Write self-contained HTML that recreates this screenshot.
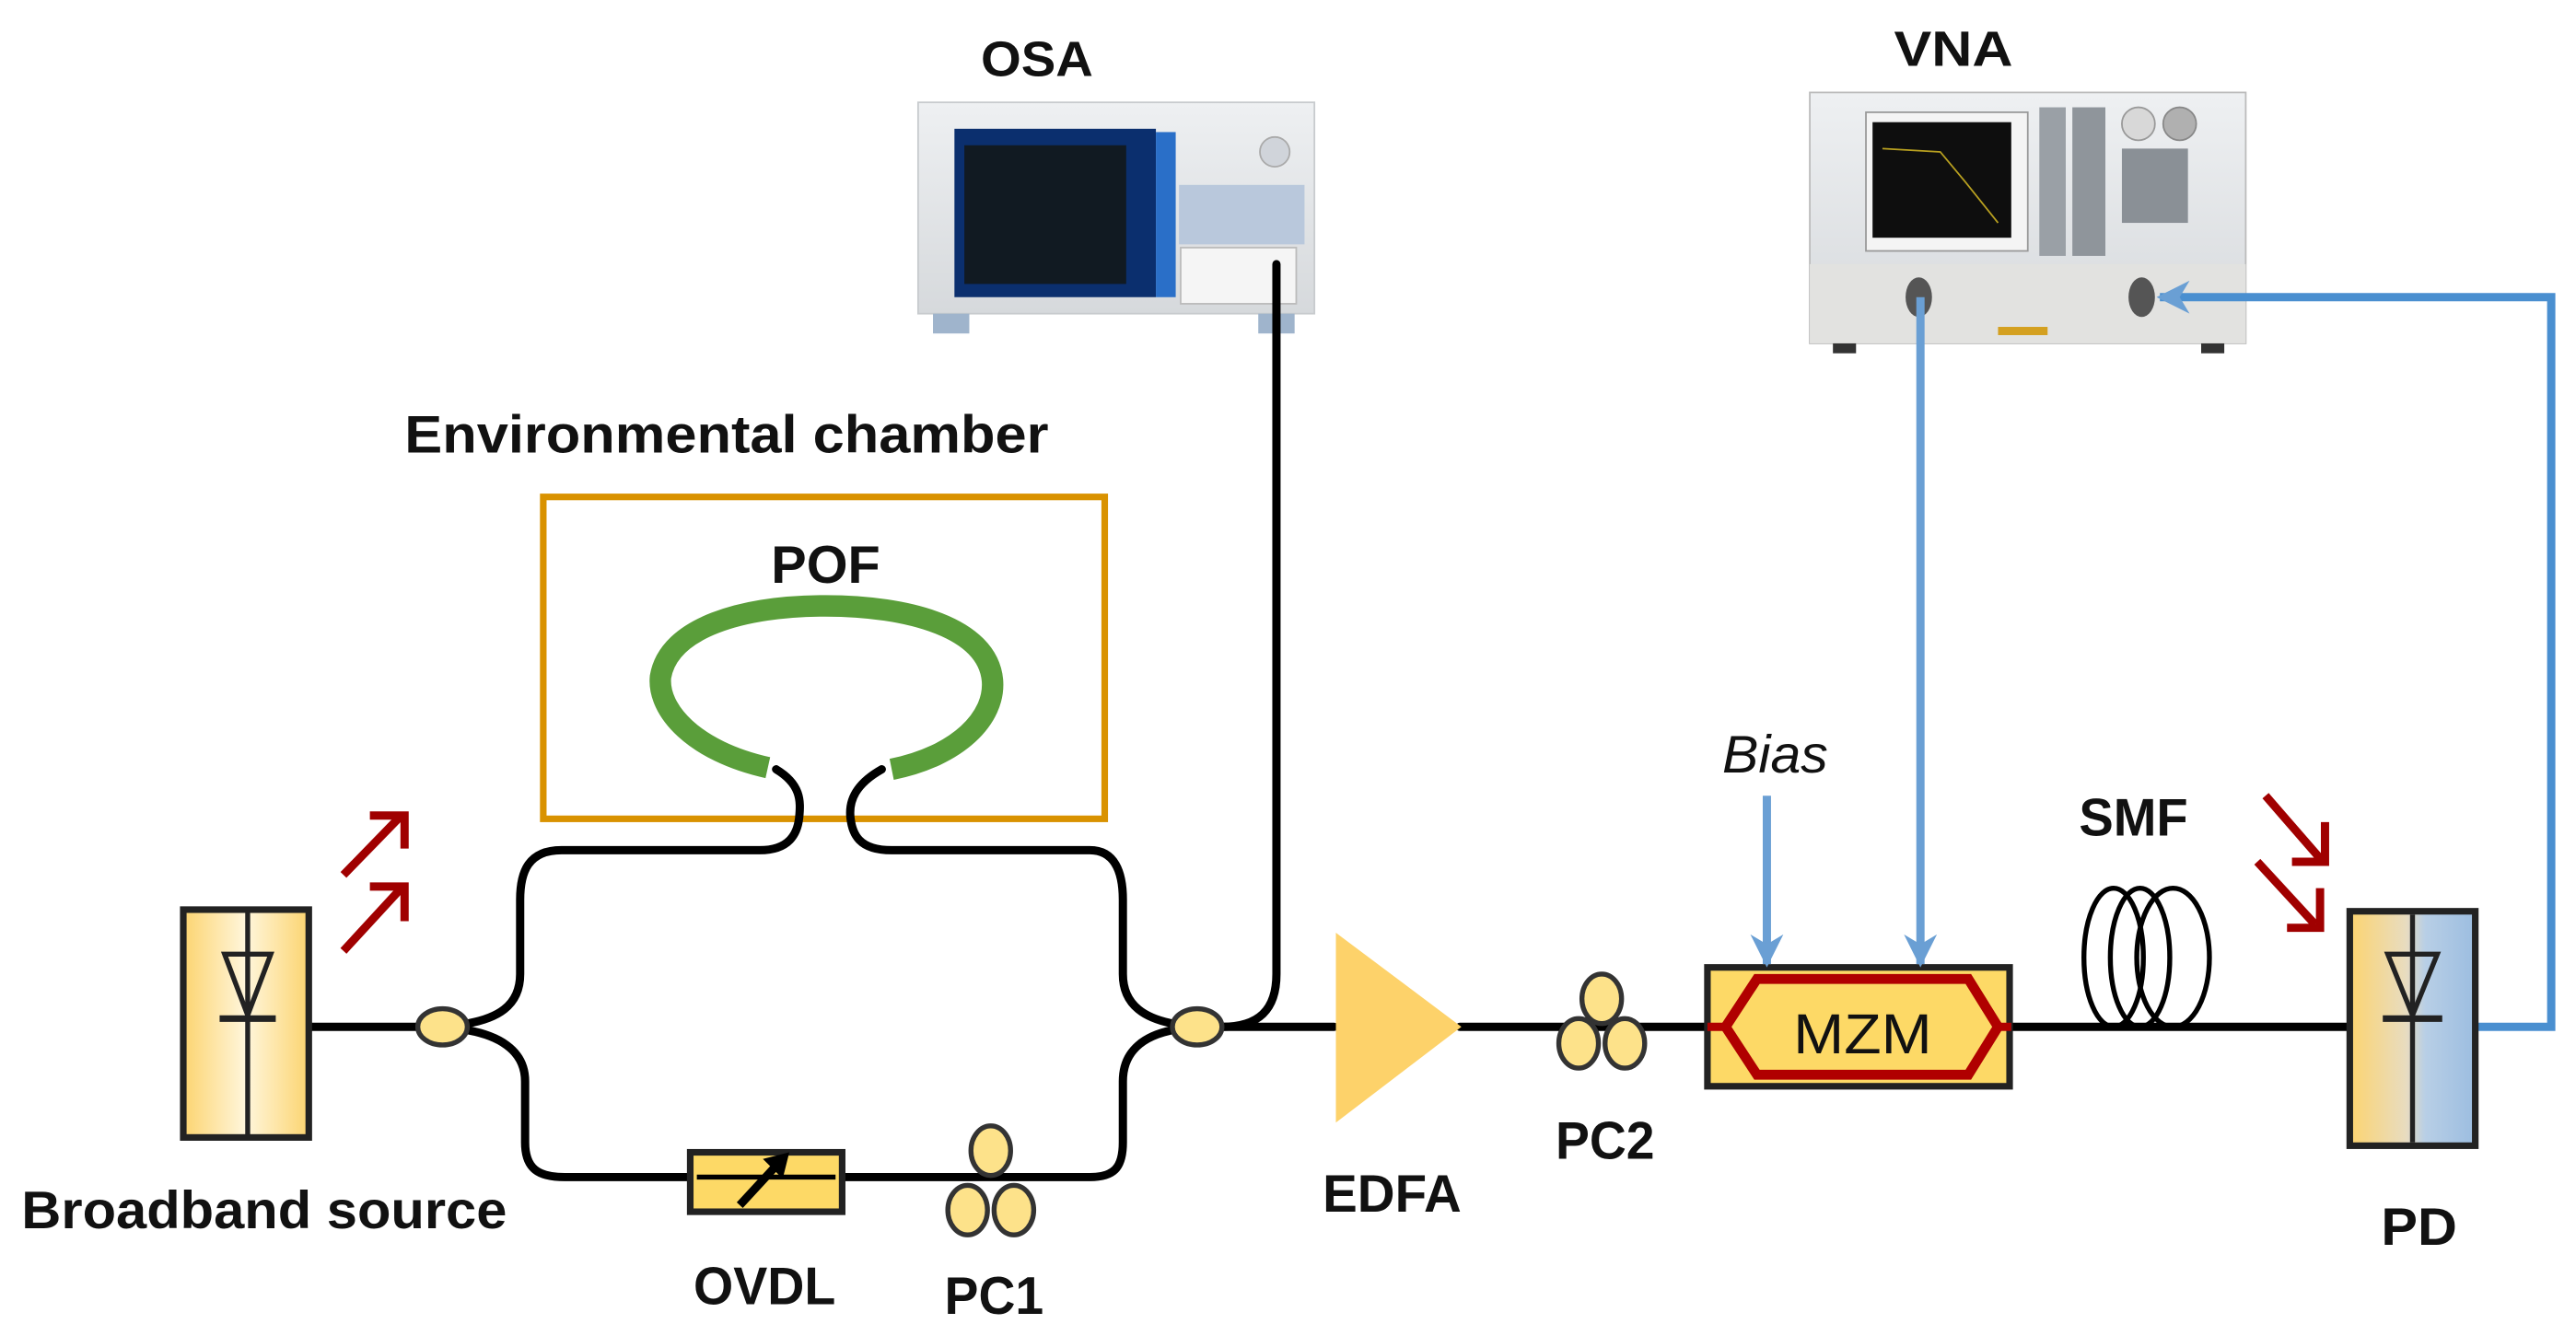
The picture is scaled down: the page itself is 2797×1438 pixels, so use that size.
<!DOCTYPE html>
<html><head><meta charset="utf-8"><style>
html,body{margin:0;padding:0;background:#fff;}
svg{display:block;}
text{font-family:"Liberation Sans",sans-serif;fill:#111;}
</style></head><body>
<svg width="2797" height="1438" viewBox="0 0 1560 802" preserveAspectRatio="none" xmlns="http://www.w3.org/2000/svg">
<defs>
<linearGradient id="srcg" x1="0" x2="1"><stop offset="0" stop-color="#fcd470"/><stop offset="0.5" stop-color="#fff6dc"/><stop offset="1" stop-color="#fcd470"/></linearGradient>
<linearGradient id="pdg" x1="0" x2="1"><stop offset="0" stop-color="#fcd470"/><stop offset="0.45" stop-color="#e8dcc0"/><stop offset="0.6" stop-color="#b8cfe6"/><stop offset="1" stop-color="#9cbde0"/></linearGradient>
<linearGradient id="dev" x1="0" y1="0" x2="0" y2="1"><stop offset="0" stop-color="#eef0f2"/><stop offset="1" stop-color="#d6d9dc"/></linearGradient>
<marker id="ab" viewBox="0 0 10 10" refX="9" refY="5" markerWidth="4" markerHeight="4" orient="auto"><path d="M0,0 L10,5 L0,10 L3,5 z" fill="#6a9fd4"/></marker>
</defs>

<!-- OSA -->
<text x="628" y="46" font-size="30" font-weight="bold" text-anchor="middle" textLength="68" lengthAdjust="spacingAndGlyphs">OSA</text>
<rect x="556" y="62" width="240" height="128" fill="url(#dev)" stroke="#c8cbce"/>
<rect x="578" y="78" width="122" height="102" fill="#0b2f6e"/>
<rect x="584" y="88" width="98" height="84" fill="#111a22"/>
<rect x="700" y="80" width="12" height="100" fill="#2a6fc8"/>
<rect x="714" y="112" width="76" height="36" fill="#b9c8dc"/>
<rect x="715" y="150" width="70" height="34" fill="#f5f5f5" stroke="#bbb"/>
<circle cx="772" cy="92" r="9" fill="#d0d4da" stroke="#aaa"/>
<rect x="565" y="190" width="22" height="12" fill="#9fb4cc"/>
<rect x="762" y="190" width="22" height="12" fill="#9fb4cc"/>

<!-- VNA -->
<text x="1183" y="40" font-size="30" font-weight="bold" text-anchor="middle" textLength="72" lengthAdjust="spacingAndGlyphs">VNA</text>
<rect x="1096" y="56" width="264" height="152" fill="url(#dev)" stroke="#bbb"/>
<rect x="1096" y="160" width="264" height="48" fill="#e2e2e0"/>
<rect x="1130" y="68" width="98" height="84" fill="#f4f4f4" stroke="#999"/>
<rect x="1134" y="74" width="84" height="70" fill="#0e0e0e"/>
<polyline points="1140,90 1175,92 1190,110 1210,135" fill="none" stroke="#b8a020" stroke-width="1"/>
<rect x="1235" y="65" width="16" height="90" fill="#9aa0a6"/>
<rect x="1255" y="65" width="20" height="90" fill="#8f959b"/>
<rect x="1285" y="90" width="40" height="45" fill="#8a9096"/>
<circle cx="1295" cy="75" r="10" fill="#d8d8d8" stroke="#999"/>
<circle cx="1320" cy="75" r="10" fill="#b0b0b0" stroke="#888"/>
<ellipse cx="1162" cy="180" rx="8" ry="12" fill="#555"/>
<ellipse cx="1297" cy="180" rx="8" ry="12" fill="#555"/>
<rect x="1210" y="198" width="30" height="5" fill="#d4a020"/>
<rect x="1110" y="208" width="14" height="6" fill="#333"/>
<rect x="1333" y="208" width="14" height="6" fill="#333"/>

<!-- Environmental chamber -->
<text x="440" y="274" font-size="32" font-weight="bold" text-anchor="middle" textLength="390" lengthAdjust="spacingAndGlyphs">Environmental chamber</text>
<rect x="329" y="301" width="340" height="195" fill="none" stroke="#d99200" stroke-width="4"/>
<text x="500" y="353" font-size="32" font-weight="bold" text-anchor="middle" textLength="66" lengthAdjust="spacingAndGlyphs">POF</text>
<path d="M465,465 C420,455 398,430 400,410 C405,380 450,367 500,367 C550,367 598,380 601,412 C603,435 580,458 540,466" fill="none" stroke="#5a9e3a" stroke-width="13" stroke-linecap="butt"/>

<!-- fibers -->
<g fill="none" stroke="#000" stroke-width="5" stroke-linecap="round">
<path d="M470,466 C485,475 485,485 484,495 C483,505 478,515 460,515 L340,515 C320,515 315,528 315,545 L315,590 C315,610 300,617 283,620"/>
<path d="M534,466 C518,475 514,485 515,495 C516,505 520,515 540,515 L660,515 C675,515 680,528 680,545 L680,590 C680,610 695,617 710,620"/>
<path d="M283,624 C300,627 318,635 318,655 L318,692 C318,708 326,713 342,713 L418,713"/>
<path d="M510,713 L660,713 C674,713 680,708 680,692 L680,655 C680,635 695,627 710,624"/>
<path d="M740,622 C762,622 773,612 773,590 L773,160"/>
<line x1="188" y1="622" x2="252" y2="622"/>
<line x1="740" y1="622" x2="808" y2="622"/>
<line x1="884" y1="622" x2="1035" y2="622"/>
<line x1="1218" y1="622" x2="1422" y2="622"/>
</g>

<!-- couplers -->
<ellipse cx="268" cy="622" rx="15" ry="11" fill="#fde28a" stroke="#333" stroke-width="3"/>
<ellipse cx="725" cy="622" rx="15" ry="11" fill="#fde28a" stroke="#333" stroke-width="3"/>

<!-- Broadband source -->
<rect x="111" y="551" width="76" height="138" fill="url(#srcg)" stroke="#222" stroke-width="4"/>
<line x1="150" y1="553" x2="150" y2="688" stroke="#222" stroke-width="3"/>
<polygon points="136,578 164,578 150,615" fill="none" stroke="#222" stroke-width="3"/>
<line x1="133" y1="617" x2="167" y2="617" stroke="#222" stroke-width="4"/>
<g stroke="#a00000" stroke-width="5" fill="none">
<path d="M208,530 L243,494"/><path d="M224,494 L245,494 L245,514"/>
<path d="M208,576 L243,538"/><path d="M224,537 L245,537 L245,558"/>
</g>
<text x="160" y="744" font-size="32" font-weight="bold" text-anchor="middle" textLength="294" lengthAdjust="spacingAndGlyphs">Broadband source</text>

<!-- OVDL -->
<rect x="418" y="698" width="92" height="36" fill="#fdd966" stroke="#222" stroke-width="4"/>
<line x1="422" y1="713" x2="506" y2="713" stroke="#000" stroke-width="3"/>
<path d="M448,730 L472,704" stroke="#000" stroke-width="5"/>
<polygon points="462,702 478,698 474,714" fill="#000"/>
<text x="463" y="790" font-size="32" font-weight="bold" text-anchor="middle" textLength="86" lengthAdjust="spacingAndGlyphs">OVDL</text>

<!-- PC1 -->
<g fill="#fde28a" stroke="#333" stroke-width="3">
<ellipse cx="600" cy="697" rx="12" ry="15"/><ellipse cx="586" cy="733" rx="12" ry="15"/><ellipse cx="614" cy="733" rx="12" ry="15"/>
</g>
<text x="602" y="796" font-size="32" font-weight="bold" text-anchor="middle" textLength="60" lengthAdjust="spacingAndGlyphs">PC1</text>

<!-- EDFA -->
<polygon points="809,565 885,622 809,680" fill="#fdd26a"/>
<text x="843" y="734" font-size="32" font-weight="bold" text-anchor="middle" textLength="84" lengthAdjust="spacingAndGlyphs">EDFA</text>

<!-- PC2 -->
<g fill="#fde28a" stroke="#333" stroke-width="3">
<ellipse cx="970" cy="605" rx="12" ry="15"/><ellipse cx="956" cy="632" rx="12" ry="15"/><ellipse cx="984" cy="632" rx="12" ry="15"/>
</g>
<text x="972" y="702" font-size="32" font-weight="bold" text-anchor="middle" textLength="60" lengthAdjust="spacingAndGlyphs">PC2</text>

<!-- MZM -->
<rect x="1034" y="586" width="183" height="72" fill="#fdd966" stroke="#222" stroke-width="4"/>
<polygon points="1045,622 1064,593 1192,593 1210,622 1192,651 1064,651" fill="none" stroke="#b00000" stroke-width="6"/>
<line x1="1034" y1="622" x2="1045" y2="622" stroke="#b00000" stroke-width="5"/>
<line x1="1210" y1="622" x2="1218" y2="622" stroke="#b00000" stroke-width="5"/>
<text x="1128" y="638" font-size="34" text-anchor="middle" textLength="84" lengthAdjust="spacingAndGlyphs">MZM</text>

<!-- Bias / VNA lines -->
<text x="1075" y="468" font-size="32" font-style="italic" text-anchor="middle" textLength="64" lengthAdjust="spacingAndGlyphs">Bias</text>
<line x1="1070" y1="482" x2="1070" y2="584" stroke="#6a9fd4" stroke-width="5" marker-end="url(#ab)"/>
<line x1="1163" y1="180" x2="1163" y2="584" stroke="#6a9fd4" stroke-width="5" marker-end="url(#ab)"/>
<polyline points="1500,622 1545,622 1545,180 1308,180" fill="none" stroke="#4a8fd0" stroke-width="5" marker-end="url(#ab)"/>

<!-- SMF -->
<g fill="none" stroke="#000" stroke-width="3">
<ellipse cx="1280" cy="580" rx="18" ry="42"/>
<ellipse cx="1296" cy="580" rx="18" ry="42"/>
<ellipse cx="1316" cy="580" rx="22" ry="42"/>
</g>
<text x="1292" y="506" font-size="32" font-weight="bold" text-anchor="middle" textLength="66" lengthAdjust="spacingAndGlyphs">SMF</text>

<!-- PD -->
<g stroke="#a00000" stroke-width="5" fill="none">
<path d="M1372,482 L1405,520"/><path d="M1408,498 L1408,522 L1388,522"/>
<path d="M1367,522 L1402,560"/><path d="M1405,538 L1405,562 L1385,562"/>
</g>
<rect x="1423" y="552" width="76" height="142" fill="url(#pdg)" stroke="#222" stroke-width="4"/>
<line x1="1461" y1="554" x2="1461" y2="692" stroke="#222" stroke-width="3"/>
<polygon points="1446,578 1476,578 1461,615" fill="none" stroke="#222" stroke-width="3"/>
<line x1="1443" y1="617" x2="1479" y2="617" stroke="#222" stroke-width="4"/>
<text x="1465" y="754" font-size="32" font-weight="bold" text-anchor="middle" textLength="46" lengthAdjust="spacingAndGlyphs">PD</text>
</svg>
</body></html>
